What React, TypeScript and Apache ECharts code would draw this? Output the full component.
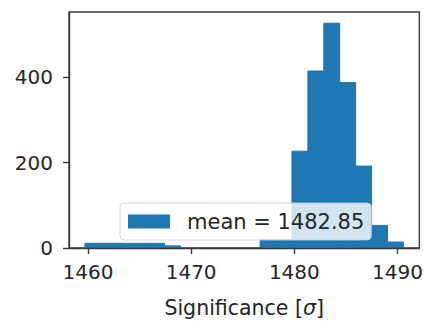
import React, { useEffect, useRef } from "react";
import * as echarts from "echarts";

// Histogram of significance values, 20 equal-width bins
const binLow = 1459.71;
const binHigh = 1490.57;
const counts = [11, 11, 11, 11, 11, 5, 0, 0, 0, 0, 0, 20, 20, 227, 415, 527, 388, 192, 53, 14];
const xTicks = [1460, 1470, 1480, 1490];
const yTicks = [0, 200, 400];
const seriesLabel = "mean = 1482.85";
const axisTitle = "Significance [{s|σ}]";

const BLUE = "#1f77b4";
const INK = "#262626";
const FRAME = "#3a3a3a";

export default function App() {
  const ref = useRef<HTMLDivElement>(null);

  useEffect(() => {
    if (!ref.current) return;
    const chart = echarts.init(ref.current, null, { renderer: "svg" });
    const nb = counts.length;
    const w = (binHigh - binLow) / nb;
    const data = counts.map((c, i) => [binLow + i * w, binLow + (i + 1) * w, c]);
    const span = binHigh - binLow;
    const xMin = binLow - 0.05 * span;
    const xMax = binHigh + 0.05 * span;
    const yMax = Math.max(...counts) * 1.05;

    chart.setOption({
      animation: false,
      textStyle: { fontFamily: "DejaVu Sans" },
      grid: {
        left: 69,
        top: 12,
        right: 4,
        bottom: 73,
        show: true,
        borderColor: FRAME,
        borderWidth: 1.4,
        backgroundColor: "transparent",
      },
      legend: {
        left: 120,
        top: 203,
        orient: "horizontal",
        icon: "rect",
        itemWidth: 42,
        itemHeight: 14,
        padding: [8, 7, 8, 8],
        backgroundColor: "rgba(255,255,255,0.8)",
        borderColor: "rgba(204,204,204,0.8)",
        borderWidth: 1,
        borderRadius: 4,
        textStyle: {
          fontFamily: "DejaVu Sans",
          fontSize: 21,
          color: INK,
          padding: [0, 0, 0, 12],
        },
        data: [seriesLabel],
        z: 10,
      },
      xAxis: {
        type: "value",
        min: xMin,
        max: xMax,
        z: 3,
        axisLine: { show: true, onZero: false, lineStyle: { color: FRAME, width: 1.4 } },
        axisTick: { show: true, length: 6, customValues: xTicks, lineStyle: { color: FRAME, width: 1.4 } },
        axisLabel: {
          customValues: xTicks,
          formatter: (v: number) => String(v),
          fontSize: 20,
          color: INK,
          margin: 14,
          fontFamily: "DejaVu Sans",
        },
        splitLine: { show: false },
        name: axisTitle,
        nameLocation: "middle",
        nameGap: 49,
        nameTextStyle: {
          fontSize: 20.5,
          color: INK,
          fontFamily: "DejaVu Sans",
          rich: { s: { fontSize: 20.5, fontStyle: "italic", color: INK, fontFamily: "DejaVu Sans" } },
        },
      },
      yAxis: {
        type: "value",
        min: 0,
        max: yMax,
        z: 3,
        axisLine: { show: true, lineStyle: { color: FRAME, width: 1.4 } },
        axisTick: { show: true, length: 6, customValues: yTicks, lineStyle: { color: FRAME, width: 1.4 } },
        axisLabel: {
          customValues: yTicks,
          formatter: (v: number) => String(v),
          fontSize: 20,
          color: INK,
          margin: 16,
          fontFamily: "DejaVu Sans",
        },
        splitLine: { show: false },
      },
      series: [
        {
          type: "custom",
          name: seriesLabel,
          itemStyle: { color: BLUE },
          encode: { x: [0, 1], y: 2 },
          data,
          renderItem: (params: any, api: any) => {
            const c = api.value(2);
            if (!c) return null;
            const p0 = api.coord([api.value(0), c]);
            const p1 = api.coord([api.value(1), 0]);
            return {
              type: "rect",
              shape: { x: p0[0], y: p0[1], width: p1[0] - p0[0], height: p1[1] - p0[1] },
              style: { fill: BLUE, stroke: BLUE, lineWidth: 1 },
            };
          },
          z: 2,
        },
      ],
    });

    return () => chart.dispose();
  }, []);

  return (
    <div
      ref={ref}
      style={{ position: "fixed", left: 0, top: 0, width: 426, height: 323, background: "#fff" }}
    />
  );
}
